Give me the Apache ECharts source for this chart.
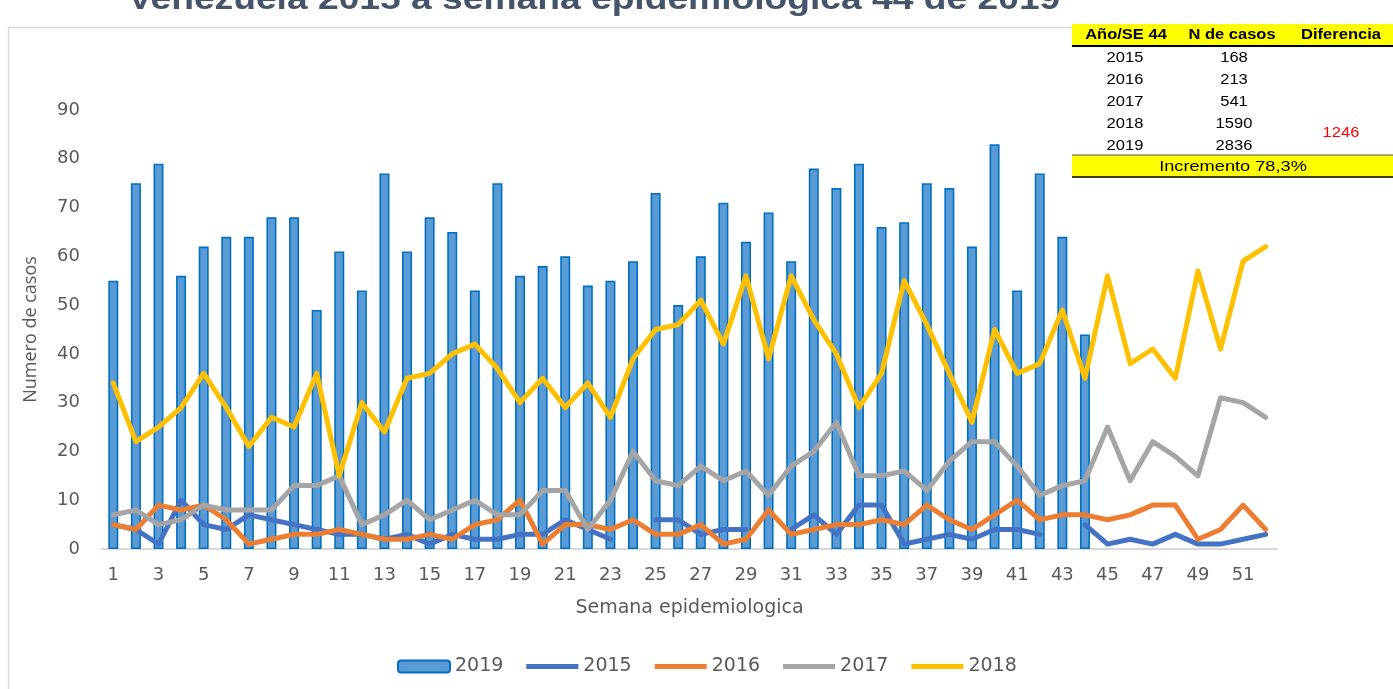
<!DOCTYPE html>
<html>
<head>
<meta charset="utf-8">
<script src="https://cdn.jsdelivr.net/npm/echarts@6/dist/echarts.min.js"></script>
<style>
  html, body { margin: 0; padding: 0; background: #fff; }
  #main { width: 1393px; height: 689px; }
</style>
</head>
<body>
<div id="main"></div>
<script>
// semanas epidemiologicas 1..52
var weeks = [];
for (var w = 1; w <= 52; w++) weeks.push(String(w));

// casos por semana (2019 hasta SE 44)
var cases2019 = [55, 75, 79, 56, 62, 64, 64, 68, 68, 49, 61, 53, 77, 61, 68, 65, 53, 75, 56, 58,
  60, 54, 55, 59, 73, 50, 60, 71, 63, 69, 59, 78, 74, 79, 66, 67, 75, 74, 62, 83,
  53, 77, 64, 44];
var cases2015 = [5, 4, 1, 10, 5, 4, 7, 6, 5, 4, 3, 3, 2, 3, 1, 3, 2, 2, 3, 3,
  6, 4, 2, null, 6, 6, 3, 4, 4, null, 4, 7, 3, 9, 9, 1, 2, 3, 2, 4,
  4, 3, null, 5, 1, 2, 1, 3, 1, 1, 2, 3];
var cases2016 = [5, 4, 9, 8, 9, 6, 1, 2, 3, 3, 4, 3, 2, 2, 3, 2, 5, 6, 10, 1,
  5, 5, 4, 6, 3, 3, 5, 1, 2, 8, 3, 4, 5, 5, 6, 5, 9, 6, 4, 7,
  10, 6, 7, 7, 6, 7, 9, 9, 2, 4, 9, 4];
var cases2017 = [7, 8, 5, 6, 9, 8, 8, 8, 13, 13, 15, 5, 7, 10, 6, 8, 10, 7, 7, 12,
  12, 4, 10, 20, 14, 13, 17, 14, 16, 11, 17, 20, 26, 15, 15, 16, 12, 18, 22, 22,
  17, 11, 13, 14, 25, 14, 22, 19, 15, 31, 30, 27];
var cases2018 = [34, 22, 25, 29, 36, 29, 21, 27, 25, 36, 15, 30, 24, 35, 36, 40, 42, 37, 30, 35,
  29, 34, 27, 39, 45, 46, 51, 42, 56, 39, 56, 47, 40, 29, 36, 55, 46, 36, 26, 45,
  36, 38, 49, 35, 56, 38, 41, 35, 57, 41, 59, 62];

// tabla resumen
var tableHeader = ['Año/SE 44', 'N de casos', 'Diferencia'];
var tableYears = ['2015', '2016', '2017', '2018', '2019'];
var tableCases = ['168', '213', '541', '1590', '2836'];
var tableDiff = '1246';
var tableFooter = 'Incremento 78,3%';

var font = '"DejaVu Sans", sans-serif';
var tfont = '"Liberation Sans", sans-serif';

// texto de la tabla (un poco ensanchado como en la imagen original)
function cell(t, x, y, f, color, sx) {
  return { type: 'text', x: x, y: y, scaleX: sx || 1.18,
    style: { text: t, font: f, fill: color || '#000', align: 'center', verticalAlign: 'middle' } };
}

var tableEls = [
  { type: 'rect', shape: { x: 1072, y: 24, width: 330, height: 22 }, style: { fill: '#FFFF00' } },
  { type: 'line', shape: { x1: 1072, y1: 46, x2: 1400, y2: 46 }, style: { stroke: '#000', lineWidth: 2 } },
  { type: 'rect', shape: { x: 1072, y: 155, width: 330, height: 22 }, style: { fill: '#FFFF00' } },
  { type: 'line', shape: { x1: 1072, y1: 155, x2: 1400, y2: 155 }, style: { stroke: '#555', lineWidth: 1 } },
  { type: 'line', shape: { x1: 1072, y1: 177, x2: 1400, y2: 177 }, style: { stroke: '#000', lineWidth: 1.5 } }
];
var headX = [1126, 1232, 1341];
tableHeader.forEach(function (t, i) {
  tableEls.push(cell(t, headX[i], 35, 'bold 15px ' + tfont, '#000', 1.1));
});
tableYears.forEach(function (t, i) {
  var y = 58 + i * 22;
  tableEls.push(cell(t, 1125, y, '14px ' + tfont));
  tableEls.push(cell(tableCases[i], 1234, y, '14px ' + tfont));
});
tableEls.push(cell(tableDiff, 1341, 133, '14px ' + tfont, '#FF0000'));
tableEls.push(cell(tableFooter, 1233, 167, '14px ' + tfont, '#000', 1.3));

function lineSeries(name, data, color) {
  return {
    name: name, type: 'line', data: data, symbol: 'none', connectNulls: false,
    lineStyle: { color: color, width: 5, cap: 'round', join: 'round' },
    itemStyle: { color: color }
  };
}

var lineIcon = 'path://M0,0 L52,0 L52,5 L0,5 Z';

var myChart = echarts.init(document.getElementById('main'));
var option = {
  animation: false,
  backgroundColor: '#fff',
  color: ['#5B9BD5', '#4472C4', '#ED7D31', '#A5A5A5', '#FFC000'],
  graphic: [
    { type: 'rect', shape: { x: 8.5, y: 27.5, width: 1400, height: 700 },
      style: { fill: 'none', stroke: '#D9D9D9', lineWidth: 1.5 } },
    { type: 'text', x: 594, y: 16, scaleX: 1.2,
      style: { text: 'Venezuela 2015 a semana epidemiologica 44 de 2019', font: 'bold 31px ' + tfont,
        fill: '#44546A', align: 'center', verticalAlign: 'bottom' } }
  ].concat(tableEls),
  legend: {
    left: 392, top: 652,
    itemWidth: 52, itemHeight: 12, itemGap: 23,
    textStyle: { color: '#595959', fontSize: 19, fontFamily: font },
    lineStyle: { width: 'inherit' },
    data: [
      { name: '2019' },
      { name: '2015', icon: lineIcon },
      { name: '2016', icon: lineIcon },
      { name: '2017', icon: lineIcon },
      { name: '2018', icon: lineIcon }
    ]
  },
  grid: { left: 102, right: 116, top: 110, bottom: 140, containLabel: false, outerBoundsMode: 'none' },
  xAxis: {
    type: 'category', data: weeks,
    name: 'Semana epidemiologica', nameLocation: 'middle', nameGap: 50,
    nameTextStyle: { color: '#595959', fontSize: 19, fontFamily: font },
    axisLine: { lineStyle: { color: '#D9D9D9', width: 2 } },
    axisTick: { show: false },
    axisLabel: { interval: 1, color: '#595959', fontSize: 18, fontFamily: font, margin: 17 }
  },
  yAxis: {
    type: 'value', min: 0, max: 90, interval: 10,
    name: 'Numero de casos', nameLocation: 'middle', nameGap: 62,
    nameTextStyle: { color: '#595959', fontSize: 18, fontFamily: '"Open Sans", sans-serif' },
    axisLine: { show: false }, axisTick: { show: false },
    splitLine: { show: false },
    axisLabel: { color: '#595959', fontSize: 18, fontFamily: font, margin: 22 }
  },
  series: [
    {
      name: '2019', type: 'bar', data: cases2019, barWidth: 10,
      itemStyle: { color: '#5B9BD5', borderColor: '#0070C0', borderWidth: 1.6 }
    },
    lineSeries('2015', cases2015, '#4472C4'),
    lineSeries('2016', cases2016, '#ED7D31'),
    lineSeries('2017', cases2017, '#A5A5A5'),
    lineSeries('2018', cases2018, '#FFC000')
  ]
};
myChart.setOption(option);
</script>
</body>
</html>
